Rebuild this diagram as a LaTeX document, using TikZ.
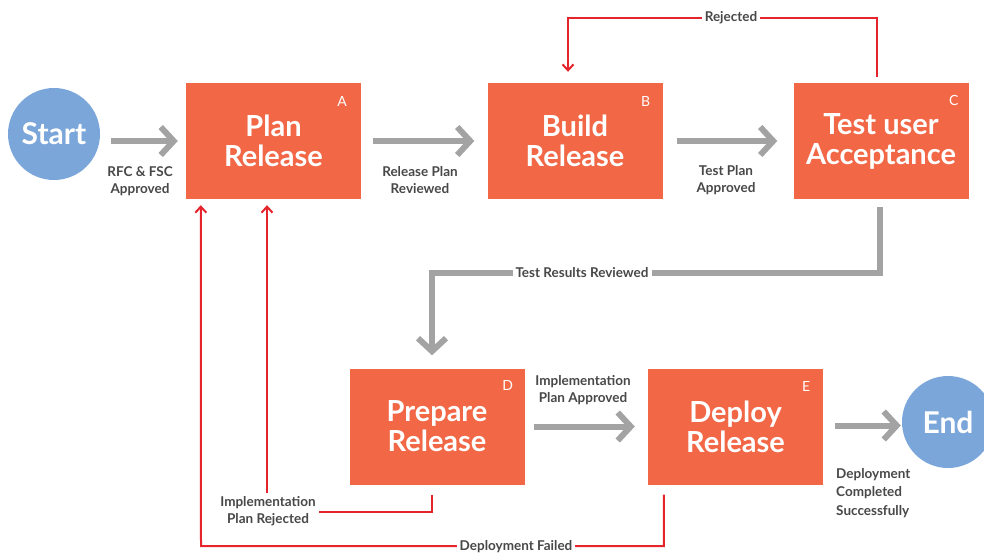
\documentclass[tikz,border=0pt]{standalone}
\usepackage{fontspec}
\setmainfont{Lato}
\usetikzlibrary{arrows.meta,calc}
\definecolor{boxorange}{HTML}{F26847}
\definecolor{startblue}{HTML}{7BA6DA}
\definecolor{flowgray}{HTML}{A3A3A3}
\definecolor{backred}{HTML}{E5242B}
\definecolor{labelgray}{HTML}{484848}
\begin{document}
\begin{tikzpicture}[x=1pt,y=-1pt,
  stage/.style={fill=boxorange, minimum width=175pt, minimum height=116pt, inner sep=0pt,
    text=white, font=\fontsize{29}{30}\selectfont\bfseries, align=center},
  terminal/.style={circle, fill=startblue, minimum size=92pt, inner sep=0pt,
    text=white, font=\fontsize{30}{30}\selectfont\bfseries},
  tag/.style={text=white, font=\fontsize{14}{14}\selectfont},
  flow/.style={draw=flowgray, line width=6pt, -{Straight Barb[length=13pt,width=28pt]}},
  back/.style={draw=backred, line width=2pt, -{Straight Barb[length=6pt,width=11pt]}},
  lbl/.style={text=labelgray, font=\fontsize{13.5}{17}\selectfont\bfseries, align=center,
    fill=white, inner sep=3pt},
]
\useasboundingbox (0,0) rectangle (984,552);

% process stages and terminals
\node[terminal] (start) at (54,134) {Start};
\node[stage] (A) at (273.5,141) {Plan\\Release};
\node[stage] (B) at (575,141) {Build\\Release};
\node[stage] (C) at (881,141) {Test user\\Acceptance};
\node[stage] (D) at (437,426.5) {Prepare\\Release};
\node[stage] (E) at (735.5,426.5) {Deploy\\Release};
\node[terminal] (end) at (948,422) {End};

% corner letters
\node[tag] (tA) at ($(A.north east)+(-19,19)$) {A};
\node[tag] (tB) at ($(B.north east)+(-17,19)$) {B};
\node[tag] (tC) at ($(C.north east)+(-15,18)$) {C};
\node[tag] (tD) at ($(D.north east)+(-17,17)$) {D};
\node[tag] (tE) at ($(E.north east)+(-17,18)$) {E};

% forward flow
\draw[flow] ($(start.east |- A.west)+(11,0)$) -- ($(A.west)+(-8,0)$);
\node[lbl] (l1) at (140,181) {RFC \& FSC\\Approved};
\draw[flow] ($(A.east)+(12,0)$) -- ($(B.west)+(-13,0)$);
\node[lbl] (l2) at (420,180) {Release Plan\\Reviewed};
\draw[flow] ($(B.east)+(14,0)$) -- ($(C.west)+(-16,0)$);
\node[lbl] (l3) at (726,180) {Test Plan\\Approved};
\coordinate (cdbend) at (880,273);
\draw[flow] ($(C.south)+(-1,8)$) -- (cdbend) -| ($(D.north)+(-5,-13)$);
\node[lbl] (l4) at (582,273) {Test Results Reviewed};
\draw[flow] ($(D.east)+(9,0)$) -- ($(E.west)+(-13,0)$);
\node[lbl] (l5) at (583,390) {Implementation\\Plan Approved};
\draw[flow] ($(E.east)+(12,-1)$) -- ($(end.west |- E.east)+(-1,-1)$);
\node[lbl, align=left, anchor=north west, font=\fontsize{13.5}{18.5}\selectfont\bfseries] (l6)
  at (833,465) {Deployment\\Completed\\Successfully};

% return paths
\coordinate (rejtop) at (877,18);
\draw[back] ($(C.north)+(-4,-6)$) -- (rejtop) -| ($(B.north)+(-7,-11)$);
\node[lbl] (l7) at (731,18) {Rejected};
\coordinate (iprbend) at (267,512);
\draw[back] ($(D.south)+(-5,10)$) |- (iprbend) -- ($(A.south)+(-6.5,6)$);
\node[lbl] (l8) at (268,511) {Implementation\\Plan Rejected};
\coordinate (dfbend) at (201,546);
\draw[back] ($(E.south west)+(16,10)$) |- (dfbend) -- ($(A.south west)+(15,6)$);
\node[lbl] (l9) at (516,547) {Deployment Failed};
\end{tikzpicture}
\end{document}
